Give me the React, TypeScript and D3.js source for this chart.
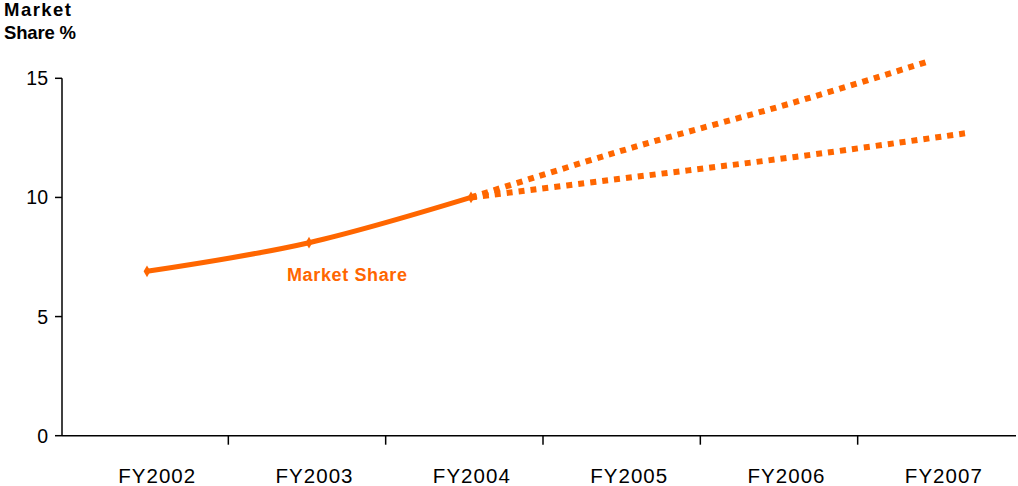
import React from "react";
import * as d3 from "d3";

const categories = ["FY2002", "FY2003", "FY2004", "FY2005", "FY2006", "FY2007"];
const actualYears = [2002, 2003, 2004];
const actualShare = [6.9, 8.1, 10.0];
const upperYears = [2004, 2005, 2006, 2006.82];
const upperShare = [10.0, 12.1, 14.0, 15.7];
const lowerYears = [2004, 2005, 2006, 2007.06];
const lowerShare = [10.0, 10.85, 11.7, 12.7];
const yTicks = [0, 5, 10, 15];

const W = 1018;
const H = 486;
const ORANGE = "#FF6600";
const FONT = "Arial, 'Liberation Sans', sans-serif";

export default function App() {
  const y = d3.scaleLinear().domain([0, 15]).range([435.7, 78.3]);
  const xBand = d3.scaleBand<string>().domain(categories).range([71, 1015]);
  const x = d3.scaleLinear().domain([2002, 2007]).range([147, 957]);

  const projLine = d3
    .line<[number, number]>()
    .x((d) => x(d[0]))
    .y((d) => y(d[1]))
    .curve(d3.curveCatmullRom);

  const actualLine = d3
    .line<[number, number]>()
    .x((d) => x(d[0]))
    .y((d) => y(d[1]))
    .curve(d3.curveMonotoneX);

  const actual: [number, number][] = actualYears.map((yr, i) => [yr, actualShare[i]]);
  const upper: [number, number][] = upperYears.map((yr, i) => [yr, upperShare[i]]);
  const lower: [number, number][] = lowerYears.map((yr, i) => [yr, lowerShare[i]]);

  const axisX0 = 62;
  const axisX1 = 1016;
  const y0 = y(0);

  return (
    <svg
      width={W}
      height={H}
      style={{ position: "absolute", left: 0, top: 0, background: "#fff" }}
      fontFamily={FONT}
    >
      {/* title */}
      <text x={4} y={16} fontSize={18.5} fontWeight="bold" fill="#000" textLength={67}>
        Market
      </text>
      <text x={4} y={39} fontSize={18.5} fontWeight="bold" fill="#000" textLength={72}>
        Share %
      </text>

      {/* y axis */}
      <line x1={axisX0} x2={axisX0} y1={y(15)} y2={y0} stroke="#000" strokeWidth={1.5} />
      {yTicks.map((t) => (
        <g key={t}>
          <line x1={55} x2={axisX0} y1={y(t)} y2={y(t)} stroke="#000" strokeWidth={1.5} />
          <text x={48} y={y(t) + 7} fontSize={19.5} textAnchor="end" fill="#000">
            {t}
          </text>
        </g>
      ))}

      {/* x axis */}
      <line x1={axisX0} x2={axisX1} y1={y0} y2={y0} stroke="#000" strokeWidth={1.5} />
      {categories.slice(1).map((c) => (
        <line
          key={c}
          x1={xBand(c)!}
          x2={xBand(c)!}
          y1={y0}
          y2={y0 + 9}
          stroke="#000"
          strokeWidth={1.5}
        />
      ))}
      {categories.map((c) => (
        <text
          key={c}
          x={xBand(c)! + xBand.bandwidth() / 2 + 7}
          y={483}
          fontSize={20.5}
          textAnchor="middle"
          fill="#000"
          textLength={77}
        >
          {c}
        </text>
      ))}

      {/* projections */}
      <path d={projLine(upper)!} fill="none" stroke={ORANGE} strokeWidth={6} strokeDasharray="6 6" />
      <path d={projLine(lower)!} fill="none" stroke={ORANGE} strokeWidth={6} strokeDasharray="6 6" />

      {/* actual */}
      <path d={actualLine(actual)!} fill="none" stroke={ORANGE} strokeWidth={5} />
      {actual.map((d, i) => (
        <path
          key={i}
          d={d3.symbol().type(d3.symbolDiamond).size(40)()!}
          transform={`translate(${x(d[0])},${y(d[1])})`}
          fill={ORANGE}
        />
      ))}

      <text
        x={347}
        y={281}
        fontSize={18}
        fontWeight="bold"
        textAnchor="middle"
        fill={ORANGE}
        textLength={120}
      >
        Market Share
      </text>
    </svg>
  );
}
